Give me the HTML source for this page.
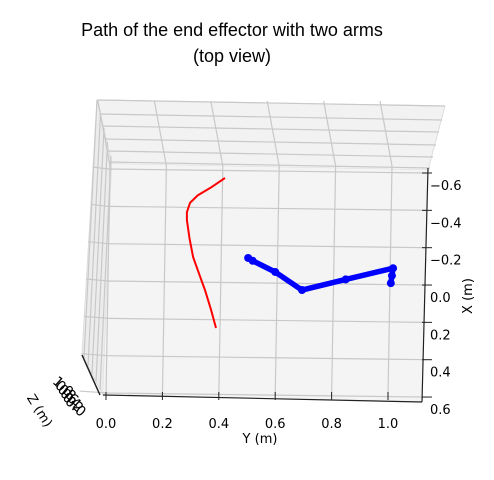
<!DOCTYPE html>
<html><head><meta charset="utf-8"><style>
body{margin:0;background:#fff;}
svg{display:block;font-family:"DejaVu Sans","Liberation Sans",sans-serif;}
</style></head><body>
<svg id="chart" width="494" height="480" viewBox="0 0 494 480">
<text x="232" y="36" font-size="18" text-anchor="middle" font-family="Liberation Sans, sans-serif">Path of the end effector with two arms</text>
<text x="232" y="62" font-size="18" text-anchor="middle" font-family="Liberation Sans, sans-serif">(top view)</text>
<g id="pane"></g>
<g id="grid"></g>
<g id="axes"></g>
<g id="series"></g>
</svg>
<script>
const yTicks=[0.0,0.2,0.4,0.6,0.8,1.0];
const xTicks=[-0.6,-0.4,-0.2,0.0,0.2,0.4,0.6];
const zTickLabels=["1.0","0.8","0.6","0.4","0.2","0.0"];
const redY=[0.422,0.37,0.325,0.298,0.287,0.287,0.296,0.309,0.33,0.351,0.372,0.39];
const redX=[-0.573,-0.52,-0.48,-0.44,-0.39,-0.348,-0.25,-0.15,-0.06,0.027,0.13,0.23];
const blueY=[0.504,0.52,0.6,0.695,0.85,1.018,1.014,1.01];
const blueX=[-0.145,-0.13,-0.07,0.027,-0.03,-0.09,-0.05,-0.01];
const NS="http://www.w3.org/2000/svg";
function sy(y){return 106+y*282;}
function sx(x){return 173+(x+0.6)*186.7;}
function mk(tag,attrs,parent){const e=document.createElementNS(NS,tag);for(const k in attrs)e.setAttribute(k,attrs[k]);document.getElementById(parent).appendChild(e);return e;}
let p=mk('polygon',{points:"97,100 445,106 428,170 112,164",fill:"#f2f2f2",stroke:"#ddd"},'pane');

p=mk('polygon',{points:"97,100 112,164 103,395 82,355",fill:"#ececec",stroke:"#ddd"},'pane');

p=mk('polygon',{points:"112,164 428,170 422,402 103,395",fill:"#f4f4f4",stroke:"none"},'pane');

[100,114,126,139,151,162].forEach((yy,i)=>{const l=mk('line',{x1:97+i*2.5,y1:yy,x2:445-i*3,y2:yy+6,stroke:"#c8c8c8","stroke-width":1.2},'grid');
});
[0,1,2,3,4].forEach(i=>{const l=mk('line',{x1:97+i*3.5,y1:100+i*14,x2:84+i*4,y2:358+i*8,stroke:"#c8c8c8","stroke-width":1.2},'grid');
});
yTicks.forEach(v=>{const X=sy(v);const l=mk('line',{x1:X+4,y1:166,x2:X,y2:396,stroke:"#c8c8c8","stroke-width":1.2},'grid');

const t=mk('line',{x1:X-8,y1:101,x2:X+4,y2:166,stroke:"#c8c8c8","stroke-width":1.2},'grid');
});
xTicks.forEach(v=>{const Y=sx(v);const l=mk('line',{x1:108,y1:Y-4,x2:426,y2:Y,stroke:"#c8c8c8","stroke-width":1.2},'grid');

const bx=97-15*(Y-100)/255;
const b=mk('line',{x1:bx,y1:Y-6,x2:108,y2:Y-4,stroke:"#c8c8c8","stroke-width":1.2},'grid');
});
let a=mk('line',{x1:103,y1:395,x2:422,y2:402,stroke:"#222","stroke-width":1.2},'axes');

a=mk('line',{x1:428,y1:168,x2:422,y2:402,stroke:"#222","stroke-width":1.2},'axes');

a=mk('line',{x1:82,y1:355,x2:100,y2:395,stroke:"#222","stroke-width":1.5},'axes');

yTicks.forEach(v=>{const X=sy(v);const t=mk('line',{x1:X,y1:392,x2:X,y2:400,stroke:"#222"},'axes');

const tx=mk('text',{x:X,y:428,"font-size":13,"text-anchor":"middle"},'axes');tx.textContent=v.toFixed(1);
});
xTicks.forEach(v=>{const Y=sx(v);const t=mk('line',{x1:422,y1:Y,x2:432,y2:Y,stroke:"#222"},'axes');

const tx=mk('text',{x:430,y:Y+17,"font-size":13},'axes');tx.textContent=(v<0?"\u2212":"")+Math.abs(v).toFixed(1);
});
zTickLabels.forEach((s,i)=>{const cx=60+i*2.5,cy=390+i*4;const tx=mk('text',{x:cx,y:cy,"font-size":14,"text-anchor":"middle",transform:`rotate(42 ${cx} ${cy})`},'axes');tx.textContent=s;
});
let lab=mk('text',{x:260,y:443,"font-size":13,"text-anchor":"middle"},'axes');lab.textContent="Y (m)";

lab=mk('text',{x:472,y:296,"font-size":13,"text-anchor":"middle",transform:"rotate(-90 472 296)"},'axes');lab.textContent="X (m)";

lab=mk('text',{x:36,y:413,"font-size":13,"text-anchor":"middle",transform:"rotate(58 36 413)"},'axes');lab.textContent="Z (m)";

let d=redY.map((v,i)=>(i?'L':'M')+sy(v).toFixed(1)+','+sx(redX[i]).toFixed(1)).join(' ');
let r=mk('path',{d:d,fill:"none",stroke:"#ff0000","stroke-width":2,"stroke-linejoin":"round"},'series');

d=blueY.map((v,i)=>(i?'L':'M')+sy(v).toFixed(1)+','+sx(blueX[i]).toFixed(1)).join(' ');
let b=mk('path',{d:d,fill:"none",stroke:"#0000ff","stroke-width":5.5,"stroke-linejoin":"round","stroke-linecap":"round"},'series');

blueY.forEach((v,i)=>{const c=mk('circle',{cx:sy(v),cy:sx(blueX[i]),r:4,fill:"#0000ff"},'series');
});
</script>
</body></html>
